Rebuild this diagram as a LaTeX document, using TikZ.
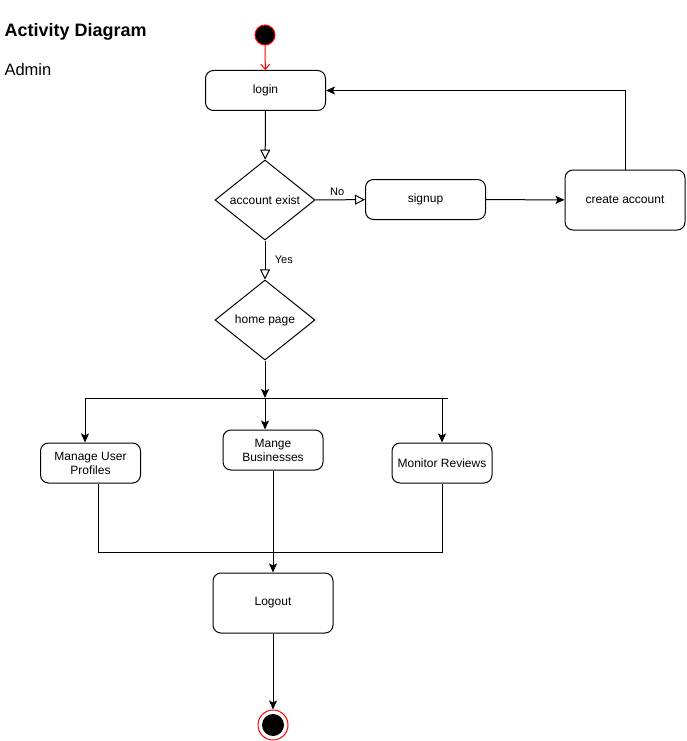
\documentclass[tikz,border=0pt]{standalone}
\usepackage{fontspec}
\setmainfont{Liberation Sans}
\usetikzlibrary{arrows.meta,shapes.geometric,positioning}
\tikzset{
  act/.style={draw, rounded corners=8pt, line width=1pt, minimum width=120pt, minimum height=40pt, align=center, font=\fontsize{12}{14}\selectfont},
  dec/.style={draw, diamond, aspect=1.25, inner sep=0pt, line width=1pt, minimum width=100pt, minimum height=80pt, font=\fontsize{12}{14}\selectfont},
  flow/.style={draw, line width=1pt, -{Stealth[length=9pt,width=8pt,inset=2pt]}},
  hollow/.style={draw, line width=1pt, -{Triangle[open,length=10pt,width=10pt]}},
  lbl/.style={font=\fontsize{11}{13}\selectfont}
}
\begin{document}
\begin{tikzpicture}[x=1pt,y=-1pt]
	\useasboundingbox (0,0) rectangle (686,741);
	% titles
	\node[anchor=west,font=\bfseries\fontsize{18}{21}\selectfont] (title) at (1,32) {Activity Diagram};
	\node[anchor=west,font=\fontsize{16.5}{19}\selectfont] (role) at (1,70) {Admin};
	% nodes
	\node[circle, draw=red, fill=black, line width=1pt, minimum size=20pt, inner sep=0pt] (start) at (265,35) {};
	\node[act] (login) at (265.5,90.5) {login};
	\node[dec] (exist) at (265,200) {account exist};
	\node[act] (signup) at (425.5,199.5) {signup};
	\node[act, minimum height=60pt] (create) at (625,200) {create account};
	\node[dec] (home) at (265,320) {home page};
	\node[act, minimum width=100pt] (users) at (90.5,463) {Manage User\\Profiles};
	\node[act, minimum width=100pt] (biz) at (273,450) {Mange\\Businesses};
	\node[act, minimum width=100pt] (reviews) at (442,463) {Monitor Reviews};
	\node[act, minimum height=60pt] (logout) at (273,603) {Logout};
	\node[circle, draw=red, fill=white, line width=1pt, minimum size=30pt, inner sep=0pt] (end) at (273,725) {};
	\node[circle, fill=black, minimum size=22pt, inner sep=0pt] (endin) at (end) {};
	% fork and join
	\coordinate (forkl) at (85,398);
	\coordinate (forkr) at (448,398);
	\coordinate (fork) at (265,398);
	\coordinate (joinl) at (98,552);
	\coordinate (joinr) at (442,552);
	% connectors
	\draw [line width=1pt, draw=red, -{Straight Barb[length=5pt,width=9pt]}] (start) -- (login);
	\draw [hollow] (login) -- (exist);
	\draw [hollow] (exist) -- node[lbl, above, xshift=-3pt] {No} (signup);
	\draw [flow] (signup) -- (create);
	\draw [flow] (create.north) |- (login.east);
	\draw [hollow] (exist) -- node[lbl, right, xshift=6pt] {Yes} (home);
	\draw [flow] (home) -- (fork);
	\draw [line width=1pt] (forkl) -- (forkr);
	\draw [flow] (forkl) -- (forkl |- users.north);
	\draw [flow] (fork) -- (fork |- biz.north);
	\draw [flow] (reviews.north |- fork) -- (reviews.north);
	\draw [line width=1pt] (users.south -| joinl) -- (joinl) -- (joinr) -- (reviews.south);
	\draw [flow] (biz) -- (logout);
	\draw [flow] (logout) -- (end);
\end{tikzpicture}
\end{document}
